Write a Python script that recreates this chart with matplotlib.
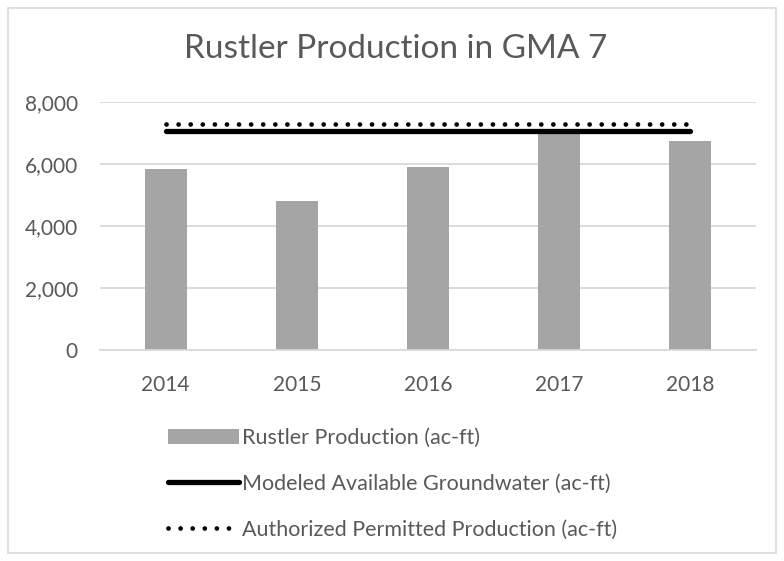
import matplotlib
matplotlib.use("Agg")
import matplotlib.pyplot as plt
from matplotlib.patches import Rectangle, Patch
from matplotlib.lines import Line2D
from matplotlib.ticker import FuncFormatter

years = ["2014", "2015", "2016", "2017", "2018"]
rustler_production = [5830, 4800, 5910, 7000, 6750]
modeled_available = [7050, 7050, 7050, 7050, 7050]
authorized_permitted = [7290, 7290, 7290, 7290, 7290]
yticks = [0, 2000, 4000, 6000, 8000]

plt.rcParams['font.family'] = ['Lato', 'DejaVu Sans']
TEXT = '#595959'
GRID = '#D9D9D9'
BAR = '#A5A5A5'
DOTS = (0, (0.01, 2.55))

fig = plt.figure(figsize=(7.84, 5.61), dpi=100)
ax = fig.add_axes([100/784, 1-350/561, 656/784, (350-102)/561])

x = list(range(len(years)))
ax.bar(x, rustler_production, width=0.32, color=BAR, zorder=2)
ax.plot(x, modeled_available, color='black', lw=3.8, solid_capstyle='round', zorder=3)
ax.plot(x, authorized_permitted, color='black', lw=3.4, linestyle=DOTS,
        dash_capstyle='round', zorder=3)

ax.set_xlim(-0.5, len(years) - 0.5)
ax.set_ylim(0, 8000)
ax.set_yticks(yticks)
ax.yaxis.set_major_formatter(FuncFormatter(lambda v, p: f"{int(v):,}"))
ax.set_xticks(x)
ax.set_xticklabels(years)
ax.grid(axis='y', color=GRID, lw=1.3, zorder=0)
ax.set_axisbelow(True)
for s in ['top', 'right', 'left']:
    ax.spines[s].set_visible(False)
ax.spines['bottom'].set_color(GRID)
ax.spines['bottom'].set_linewidth(1.3)
ax.tick_params(axis='both', length=0, labelsize=15, colors=TEXT)
ax.tick_params(axis='y', pad=16)
ax.tick_params(axis='x', pad=18)

fig.text(396/784, 1-49/561, "Rustler Production in GMA 7", ha='center', va='center',
         fontsize=24, color=TEXT)

handles = [Patch(facecolor=BAR, edgecolor='none'),
           Line2D([], [], color='black', lw=3.8, solid_capstyle='round'),
           Line2D([], [], color='black', lw=3.4, linestyle=DOTS, dash_capstyle='round')]
labels = ["Rustler Production (ac-ft)", "Modeled Available Groundwater (ac-ft)",
          "Authorized Permitted Production (ac-ft)"]
leg = fig.legend(handles, labels, loc='upper left', bbox_to_anchor=(168/784, 1-428/561),
                 frameon=False, fontsize=15.5, handlelength=3.3, handletextpad=0.15,
                 labelspacing=1.2, borderaxespad=0, borderpad=0)
for t in leg.get_texts():
    t.set_color(TEXT)

fig.patches.append(Rectangle((8/784, 8/561), 768/784, 545/561, transform=fig.transFigure,
                             fill=False, edgecolor=GRID, lw=1.2))

fig.savefig("out.png", dpi=100)
